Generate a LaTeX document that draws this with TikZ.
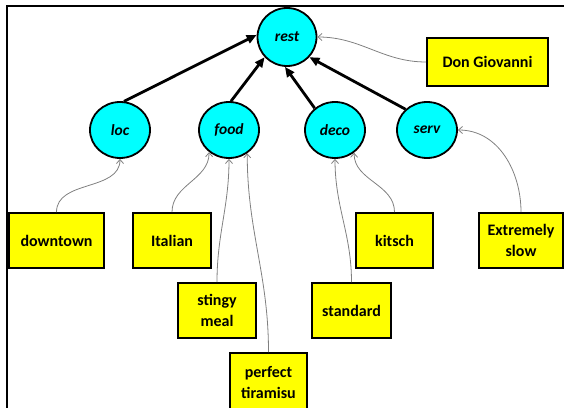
\documentclass[tikz,border=0pt]{standalone}
\usepackage{fontspec}
\setmainfont{Carlito}
\usetikzlibrary{arrows.meta,shapes.geometric}
\definecolor{cy}{HTML}{00FFFF}
\definecolor{yl}{HTML}{FFFF00}
\definecolor{lnk}{HTML}{808080}
\begin{document}
\begin{tikzpicture}[x=1pt,y=-1pt,
 concept/.style={ellipse,draw=black,line width=1.8pt,fill=cy,minimum width=60pt,minimum height=56pt,inner sep=0pt,font=\fontsize{15.5}{18}\selectfont\bfseries\itshape},
 val/.style={rectangle,draw=black,line width=1.8pt,fill=yl,inner sep=0pt,font=\fontsize{16}{21}\selectfont\bfseries,align=center},
 isa/.style={line width=2.8pt,-{Triangle[length=10pt,width=8.5pt]}},
 rel/.style={draw=lnk,line width=0.8pt,-{Straight Barb[length=4pt,width=7pt]}}]
\useasboundingbox (0,0) rectangle (564,407);
\draw[line width=2.4pt] (566,6) -- (7,6) -- (7,412);

\node[concept,minimum width=59pt,minimum height=58pt] (rest) at (287,37) {rest};
\node[concept] (loc) at (120,130) {loc};
\node[concept] (food) at (229,130) {food};
\node[concept] (deco) at (335,130) {deco};
\node[concept] (serv) at (427,130) {serv};

\node[val,minimum width=121pt,minimum height=48pt] (don) at (487.5,62) {Don Giovanni};
\node[val,minimum width=95pt,minimum height=55pt] (down) at (56.5,240.5) {downtown};
\node[val,minimum width=78pt,minimum height=55pt] (ital) at (172,240.5) {Italian};
\node[val,minimum width=77pt,minimum height=55pt] (kit) at (394.5,240.5) {kitsch};
\node[val,minimum width=84pt,minimum height=55pt] (ext) at (521,240.5) {Extremely\\slow};
\node[val,minimum width=78pt,minimum height=55pt] (sting) at (217,310.5) {stingy\\meal};
\node[val,minimum width=79pt,minimum height=55pt] (stand) at (351.5,310.5) {standard};
\node[val,minimum width=77pt,minimum height=58pt] (tira) at (268.5,382) {perfect\\tiramisu};

\draw[isa] (loc.82) -- (rest.176);
\draw[isa] (food.86) -- (rest.222);
\draw[isa] (deco.133) -- (rest.266);
\draw[isa] (serv.136) -- (rest.318);

\draw[rel] (don.west) to[out=180,in=0] (rest.east);
\draw[rel] (down.north) to[out=90,in=-90] (loc.south);
\draw[rel] (ital.north) to[out=90,in=-90] (food.228);
\draw[rel] (sting.north) to[out=90,in=-90] (food.south);
\draw[rel] (tira.north) to[out=90,in=-90] (food.-52);
\draw[rel] (stand.north) to[out=90,in=-90] (deco.south);
\draw[rel] (kit.north) to[out=90,in=-90] (deco.-50);
\draw[rel] (ext.north) to[out=90,in=0] (serv.east);
\end{tikzpicture}
\end{document}
